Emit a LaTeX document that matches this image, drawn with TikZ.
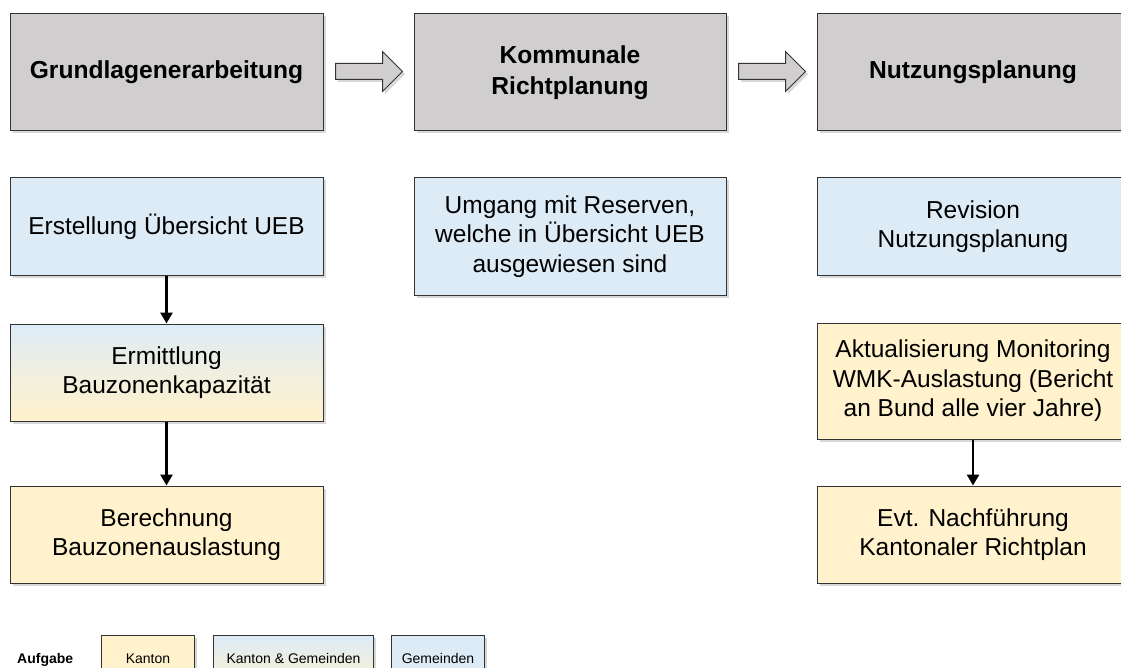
\documentclass[tikz,border=0pt]{standalone}
\usepackage{fontspec}
\setmainfont{Liberation Sans}
\usetikzlibrary{shadows,arrows.meta,calc}
\definecolor{boxgray}{HTML}{D0CECE}
\definecolor{boxblue}{HTML}{DDEBF7}
\definecolor{boxyellow}{HTML}{FFF2CC}
\definecolor{edgecol}{HTML}{333333}
\tikzset{
 base/.style={draw=edgecol, line width=1pt, align=center, inner sep=0pt, text=black,
   drop shadow={opacity=0.3, shadow xshift=2.5pt, shadow yshift=-2.5pt}},
 phase/.style={base, fill=boxgray, font=\fontsize{24.6}{31}\selectfont\bfseries, minimum height=117pt},
 task/.style={base, font=\fontsize{24.5}{29.5}\selectfont, minimum height=97pt},
 bluebox/.style={fill=boxblue},
 yellowbox/.style={fill=boxyellow},
 mixbox/.style={top color=boxblue, bottom color=boxyellow, middle color=boxblue!45!boxyellow},
 legbox/.style={base, font=\fontsize{14}{17}\selectfont, minimum height=60pt},
 conn/.style={line width=2.8pt, draw=black, -{Triangle[length=11pt,width=12pt]}},
 blockarrow/.style={draw=edgecol, line width=1pt, fill=boxgray, line join=miter,
   drop shadow={opacity=0.3, shadow xshift=2.5pt, shadow yshift=-2.5pt}}
}
\begin{document}
\begin{tikzpicture}[x=1pt,y=-1pt]
\useasboundingbox (0,0) rectangle (1121,668);
\clip (0,0) rectangle (1121,668);
\fill[white] (0,0) rectangle (1121,668);
% phase row
\node[phase, minimum width=313pt] (p1) at (166.5,72.5) {Grundlagenerarbeitung};
\node[phase, minimum width=312pt] (p2) at (570,72.5) {Kommunale\\Richtplanung};
\node[phase, minimum width=312pt] (p3) at (973,72.5) {Nutzungsplanung};
% block arrows
\foreach \a/\b/\n in {p1/p2/ba1, p2/p3/ba2}{
  \path ($(\a.east)+(12,0)$) coordinate (\n s);
  \draw[blockarrow] ($(\n s)+(0,-9)$) -- ++(47,0) -- ++(0,-12) -- ++(20,20) -- ++(-20,20) -- ++(0,-12) -- ++(-47,0) -- cycle;
}
% left column
\node[task, bluebox, minimum width=313pt] (l1) at (166.5,226.5) {Erstellung Übersicht UEB};
\node[task, mixbox, minimum width=313pt] (l2) at (166.5,372.5) {Ermittlung\\Bauzonenkapazität};
\node[task, yellowbox, minimum width=313pt] (l3) at (166.5,534.5) {Berechnung\\Bauzonenauslastung};
% middle column
\node[task, bluebox, minimum width=312pt, minimum height=117pt] (m1) at (570,236.5) {Umgang mit Reserven,\\welche in Übersicht UEB\\ausgewiesen sind};
% right column
\node[task, bluebox, minimum width=312pt] (r1) at (973,226.5) {Revision\\Nutzungsplanung};
\node[task, yellowbox, minimum width=312pt, minimum height=116pt] (r2) at (973,381) {Aktualisierung Monitoring\\WMK-Auslastung (Bericht\\an Bund alle vier Jahre)};
\node[task, yellowbox, minimum width=312pt] (r3) at (973,534.5) {Evt. Nachführung\\Kantonaler Richtplan};
% connectors
\draw[conn] (l1) -- (l2);
\draw[conn] (l2) -- (l3);
\draw[conn] (r2) -- (r3);
% legend
\node[anchor=base west, inner sep=0pt, font=\fontsize{14}{17}\selectfont\bfseries] (leg) at (17,663) {Aufgabe};
\node[legbox, yellowbox, minimum width=93pt, anchor=north west] (lk) at (101,635) {};
\node[legbox, mixbox, minimum width=160pt, anchor=north west] (lkg) at (213,635) {};
\node[legbox, bluebox, minimum width=93pt, anchor=north west] (lg) at (391,635) {};
\node[anchor=base, inner sep=0pt, font=\fontsize{14}{17}\selectfont] (tk) at ($(lk.north)+(0,28)$) {Kanton};
\node[anchor=base, inner sep=0pt, font=\fontsize{14}{17}\selectfont] (tkg) at ($(lkg.north)+(0,28)$) {Kanton \& Gemeinden};
\node[anchor=base, inner sep=0pt, font=\fontsize{14}{17}\selectfont] (tg) at ($(lg.north)+(0,28)$) {Gemeinden};
\end{tikzpicture}
\end{document}
